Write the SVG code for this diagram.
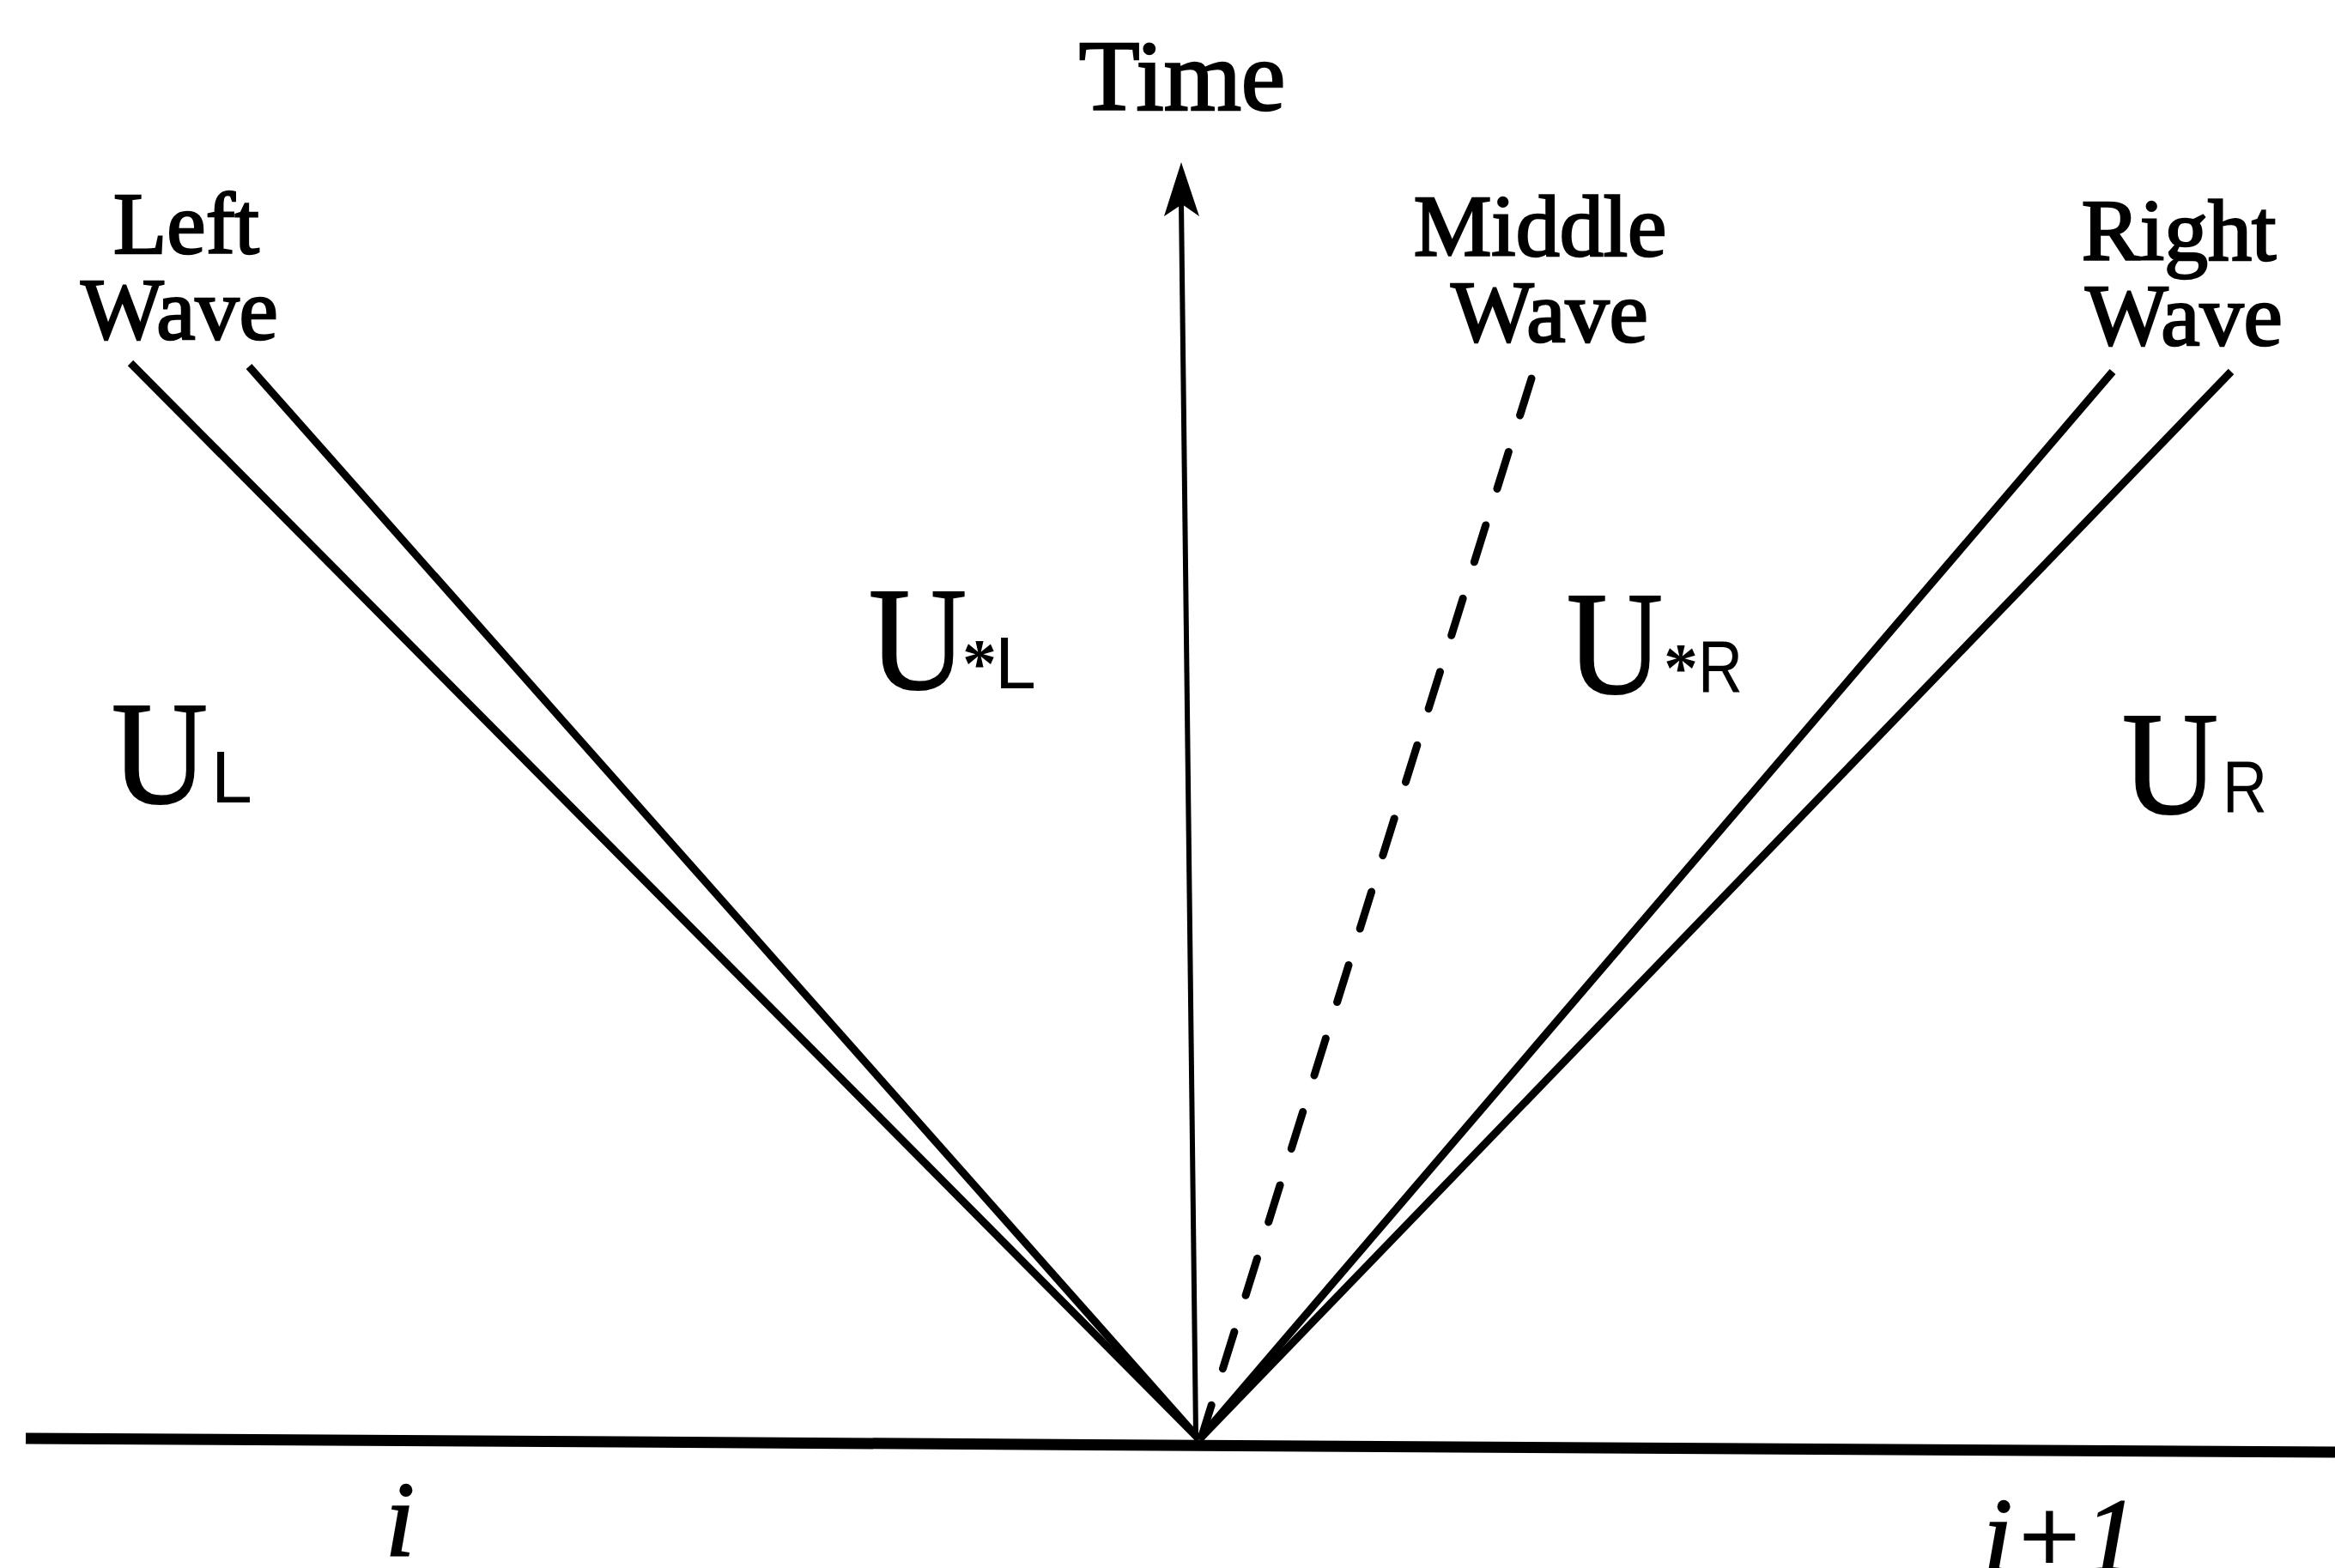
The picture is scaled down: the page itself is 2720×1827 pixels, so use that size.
<svg xmlns="http://www.w3.org/2000/svg" width="2720" height="1827" viewBox="0 0 2720 1827">
<style>
.lbl{font-family:"Liberation Serif","Times New Roman",serif;fill:#000;stroke:#000;stroke-width:2.5}
.wave{font-size:102px;text-anchor:middle}
.big{font-size:172px;stroke-width:2}
.sub{font-family:"Liberation Sans",Arial,sans-serif;font-size:86px;fill:#000}
.ast{font-family:"Liberation Serif","Times New Roman",serif;font-weight:bold;font-size:80px;fill:#000}
.idx{font-family:"Liberation Serif","Times New Roman",serif;font-style:italic;font-size:124px;fill:#000;stroke:#000;stroke-width:2}
.ln{stroke:#000;fill:none}
</style>
<rect width="2720" height="1827" fill="#fff"/>
<g id="connectors">
  <line class="ln" x1="30" y1="1676" x2="2720" y2="1692" stroke-width="13"/>
  <line class="ln" x1="152" y1="423" x2="1397" y2="1677" stroke-width="9"/>
  <line class="ln" x1="290" y1="427" x2="1397" y2="1677" stroke-width="9"/>
  <line class="ln" x1="2461" y1="433" x2="1397" y2="1677" stroke-width="9"/>
  <line class="ln" x1="2599" y1="433" x2="1397" y2="1677" stroke-width="9"/>
  <line class="ln" x1="1784" y1="441" x2="1401" y2="1670" stroke-width="9" stroke-linecap="round" stroke-dasharray="45 44.5"/>
  <line class="ln" x1="1376" y1="236" x2="1393" y2="1672" stroke-width="6"/>
  <path d="M1376,189 L1397,252 L1377,238 L1356,252 Z" fill="#000"/>
</g>
<g id="time-label"><text class="lbl" x="1377" y="128" font-size="116" text-anchor="middle">Time</text></g>
<g id="left-wave-label">
  <text class="lbl wave" x="217" y="295">Left</text>
  <text class="lbl wave" x="209" y="395">Wave</text>
</g>
<g id="middle-wave-label">
  <text class="lbl wave" x="1794" y="298">Middle</text>
  <text class="lbl wave" x="1805" y="398">Wave</text>
</g>
<g id="right-wave-label">
  <text class="lbl wave" x="2538" y="303">Right</text>
  <text class="lbl wave" x="2544" y="402">Wave</text>
</g>
<g id="UL">
  <text class="lbl big" x="130" y="935" textLength="112" lengthAdjust="spacingAndGlyphs">U</text>
  <text class="sub" x="246" y="935">L</text>
</g>
<g id="UstarL">
  <text class="lbl big" x="1012" y="802" textLength="114" lengthAdjust="spacingAndGlyphs">U</text>
  <text class="ast" x="1121" y="800">*</text>
  <text class="sub" x="1159" y="802">L</text>
</g>
<g id="UstarR">
  <text class="lbl big" x="1825" y="807" textLength="112" lengthAdjust="spacingAndGlyphs">U</text>
  <text class="ast" x="1938" y="805">*</text>
  <text class="sub" x="1978" y="806" textLength="52" lengthAdjust="spacingAndGlyphs">R</text>
</g>
<g id="UR">
  <text class="lbl big" x="2472" y="947" textLength="112" lengthAdjust="spacingAndGlyphs">U</text>
  <text class="sub" x="2589" y="946" textLength="52" lengthAdjust="spacingAndGlyphs">R</text>
</g>
<g id="index-i"><text class="idx" x="466" y="1813" text-anchor="middle">i</text></g>
<g id="index-i1"><text class="idx" x="2310" y="1832" textLength="180" lengthAdjust="spacingAndGlyphs">i+1</text></g>
</svg>
